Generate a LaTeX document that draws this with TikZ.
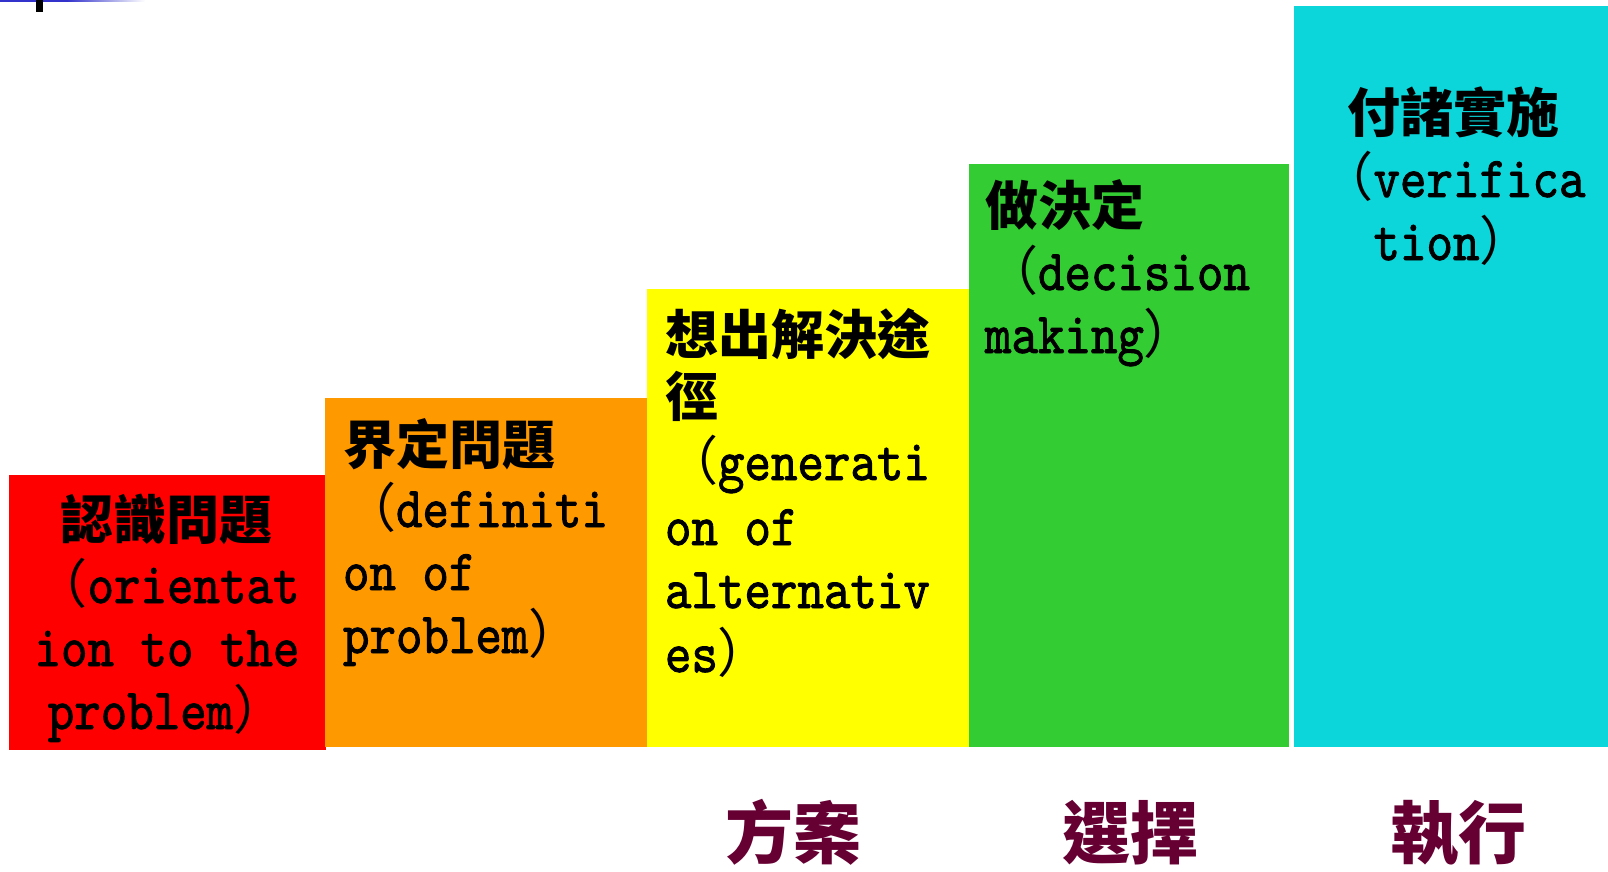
\documentclass[tikz,border=0pt]{standalone}
\usepackage{fontspec}
\newfontfamily\cjk{Noto Sans CJK TC}
\newfontfamily\lat{lmmono10-regular.otf}[FakeStretch=0.87,FakeBold=1.5]
\definecolor{cRed}{RGB}{255,0,0}
\definecolor{cOrange}{RGB}{255,153,0}
\definecolor{cYellow}{RGB}{255,255,0}
\definecolor{cGreen}{RGB}{51,204,51}
\definecolor{cCyan}{RGB}{12,214,217}
\definecolor{cMaroon}{RGB}{102,0,51}
\definecolor{cBlue}{RGB}{51,51,204}
\newcommand\lp{{\cjk\fontsize{26.5}{31.5}\selectfont （}}
\newcommand\rp{{\cjk\fontsize{26.5}{31.5}\selectfont ）}}
\begin{document}
\begin{tikzpicture}[x=0.5pt,y=-0.5pt,
  hl/.style={inner sep=0,outer sep=0,anchor=base west,font=\cjk\bfseries\fontsize{26.5}{31.5}\selectfont},
  hc/.style={hl,anchor=base},
  ll/.style={inner sep=0,outer sep=0,anchor=base west,font=\lat\fontsize{29}{31.5}\selectfont},
  lc/.style={ll,anchor=base},
  stage/.style={inner sep=0,outer sep=0,anchor=base,text=cMaroon,font=\cjk\bfseries\fontsize{34}{40}\selectfont}]
\useasboundingbox (0,0) rectangle (1608,872);
% top-left decoration
\fill[cBlue] (0,0) rectangle (67,2);
\shade[left color=cBlue,right color=white] (67,0) rectangle (145,2);
\fill[black] (36,0) rectangle (43,12);
% boxes
\fill[cRed] (9,475) rectangle (326,750);
\fill[cOrange] (325,398) rectangle (648,747);
\fill[cYellow] (647,289) rectangle (969,747);
\fill[cGreen] (969,164) rectangle (1289,747);
\fill[cCyan] (1294,6) rectangle (1608,747);
% red
\node[hc] (r1) at (167,539) {認識問題};
\node[lc] (r2) at (167,603) {\lp orientat};
\node[lc] (r3) at (167,666) {ion to the};
\node[lc] (r4) at (167,729) {problem\rp};
% orange
\node[hl] (o1) at (343,464) {界定問題};
\node[ll] (o2) at (343,527) {\lp definiti};
\node[ll] (o3) at (343,590) {on of};
\node[ll] (o4) at (343,653) {problem\rp};
% yellow
\node[hl] (y1) at (665,354) {想出解決途};
\node[hl] (y2) at (665,416) {徑};
\node[ll] (y3) at (665,480) {\lp generati};
\node[ll] (y4) at (665,545) {on of};
\node[ll] (y5) at (665,608) {alternativ};
\node[ll] (y6) at (665,672) {es\rp};
% green
\node[hl] (g1) at (985,226) {做決定};
\node[ll] (g2) at (985,290) {\lp decision};
\node[ll] (g3) at (985,353) {making\rp};
% cyan
\node[hc] (c1) at (1453,133) {付諸實施};
\node[lc] (c2) at (1453,197) {\lp verifica};
\node[lc] (c3) at (1453,260) {tion\rp};
% bottom labels
\node[stage] (s1) at (793,858) {方案};
\node[stage] (s2) at (1130,858) {選擇};
\node[stage] (s3) at (1458,858) {執行};
\end{tikzpicture}
\end{document}
